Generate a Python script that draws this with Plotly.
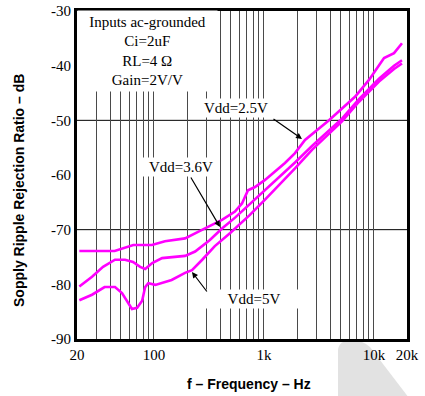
import math
import plotly.graph_objects as go

# ---------------- data ----------------
freq_25 = [21, 44, 65, 96, 126, 192, 252, 311, 416, 546, 632, 717, 830, 1024,
           1262, 1555, 1918, 2365, 3909, 6733, 9026, 12360, 15240, 18010]
psrr_25 = [-73.9, -73.9, -72.8, -72.8, -72.1, -71.6, -70.4, -69.5, -68.2, -66.7,
           -65.2, -62.8, -62.2, -60.9, -59.4, -57.8, -56.0, -53.6, -50.0, -45.7,
           -42.6, -38.6, -37.7, -35.9]

freq_36 = [21, 27.4, 34.5, 44.3, 54.6, 64.6, 75, 83.3, 96.6, 118.7, 192, 237, 323,
           416, 547, 746, 1024, 1400, 1918, 2737, 5129, 7322, 11130, 15240, 18010]
psrr_36 = [-80.4, -78.6, -76.8, -75.5, -75.5, -75.9, -76.8, -77.2, -76.1, -75.2,
           -74.8, -74.0, -71.9, -69.8, -67.8, -65.3, -62.8, -60.3, -57.7, -54.7,
           -49.7, -46.1, -42.4, -40.0, -39.0]

freq_5 = [21, 27.4, 35.6, 44.3, 51.3, 60.6, 63.2, 70.4, 78.2, 83.3, 88.9, 103, 145,
          192, 222, 275, 358, 494, 746, 1024, 1400, 1918, 2737, 5129, 7322, 11130,
          15240, 18010]
psrr_5 = [-82.9, -81.9, -80.5, -80.5, -81.6, -83.8, -84.5, -84.3, -83.0, -80.5,
          -79.8, -80.1, -79.2, -77.9, -77.4, -75.5, -73.0, -70.6, -67.3, -64.5,
          -61.7, -58.8, -55.4, -50.2, -46.6, -42.9, -40.6, -39.6]

x_grid_vals = [20, 30, 40, 50, 60, 70, 80, 90, 100, 200, 300, 400, 500, 600, 700,
               800, 900, 1000, 2000, 3000, 4000, 5000, 6000, 7000, 8000, 9000,
               10000, 20000]
x_tick_labels = {20: "20", 100: "100", 1000: "1k", 10000: "10k", 20000: "20k"}
y_tick_vals = [-90, -80, -70, -60, -50, -40, -30]
y_grid_vals = [-50, -70]

# ---------------- layout helpers (page pixel coordinates) ----------------
W, H = 425, 396
L, R, T, B = 77, 407, 11, 339  # plot area in page pixels


def xp(px):
    return (px - L) / (R - L)


def yp(py):
    return (B - py) / (B - T)


SERIF = "Liberation Serif, Times New Roman, serif"
SANS = "Liberation Sans, Arial, sans-serif"
MAG = "#ff00ff"

fig = go.Figure()
for f, p, name in [(freq_25, psrr_25, "Vdd=2.5V"),
                   (freq_36, psrr_36, "Vdd=3.6V"),
                   (freq_5, psrr_5, "Vdd=5V")]:
    fig.add_trace(go.Scatter(x=f, y=p, mode="lines", name=name,
                             line=dict(color=MAG, width=2.6),
                             showlegend=False, hoverinfo="skip"))

shapes = []
for yv in y_grid_vals:
    shapes.append(dict(type="line", xref="paper", x0=0, x1=1, yref="y",
                       y0=yv, y1=yv, line=dict(color="black", width=1),
                       layer="below"))

# light grey watermark in lower right corner
path = "M {} {} L {} {} Q {} {} {} {} Q {} {} {} {} L {} {} Z".format(
    xp(338), yp(398), xp(338), yp(350),
    xp(339), yp(340), xp(352), yp(340),
    xp(362), yp(340), xp(370), yp(347),
    xp(409), yp(398))
shapes.append(dict(type="path", xref="paper", yref="paper", path=path,
                   fillcolor="#e2e2e2", line=dict(width=0), layer="below"))

annotations = []


def label(text, cx, cy, w, h):
    annotations.append(dict(text=text, xref="paper", yref="paper",
                            x=xp(cx), y=yp(cy), xanchor="center",
                            yanchor="middle", width=w, height=h,
                            bgcolor="white", borderpad=1, showarrow=False,
                            font=dict(family=SERIF, size=15, color="black")))


label("Inputs ac-grounded<br>Ci=2uF<br>RL=4 Ω<br>Gain=2V/V", 147, 51, 137, 78)
label("Vdd=2.5V", 236, 108, 70, 16)
label("Vdd=3.6V", 181, 167, 74, 16)
label("Vdd=5V", 254, 299, 112, 16)


def arrow(tip_px, tip_py, tail_px, tail_py):
    lx = math.log10(20) + (tip_px - L) / (R - L) * 3
    yv = -30 - (tip_py - T) / (B - T) * 60
    annotations.append(dict(text="", x=lx, y=yv, xref="x", yref="y",
                            ax=tail_px - tip_px, ay=tail_py - tip_py,
                            showarrow=True, arrowhead=2, arrowsize=1,
                            arrowwidth=1.2, arrowcolor="black"))


arrow(302, 139, 272, 118)
arrow(220, 227, 190, 176)
arrow(192, 272, 208, 293)

annotations.append(dict(text="<b>Sopply Ripple Rejection Ratio – dB</b>",
                        xref="paper", yref="paper", x=xp(19), y=yp(191),
                        xanchor="center", yanchor="middle",
                        textangle=-90, showarrow=False,
                        font=dict(family=SANS, size=14, color="black")))
annotations.append(dict(text="<b>f – Frequency – Hz</b>",
                        xref="paper", yref="paper", x=xp(249), y=yp(384),
                        xanchor="center", yanchor="middle",
                        showarrow=False,
                        font=dict(family=SANS, size=14, color="black")))

fig.update_layout(
    width=W, height=H,
    margin=dict(l=L, r=W - R, t=T, b=H - B, autoexpand=False),
    paper_bgcolor="white", plot_bgcolor="white",
    shapes=shapes, annotations=annotations,
    xaxis=dict(type="log", range=[math.log10(20), math.log10(20000)],
               tickmode="array", tickvals=x_grid_vals,
               ticktext=[x_tick_labels.get(v, "") for v in x_grid_vals],
               showgrid=True, gridcolor="#4a4a4a", gridwidth=1,
               showline=True, linecolor="black", linewidth=3, mirror=True,
               ticks="", zeroline=False, automargin=False,
               ticklabeloverflow="allow",
               tickfont=dict(family=SERIF, size=15, color="black")),
    yaxis=dict(range=[-90, -30], tickmode="array", tickvals=y_tick_vals,
               ticktext=[str(v) for v in y_tick_vals],
               showgrid=False, showline=True, linecolor="black", linewidth=3,
               mirror=True, ticks="", zeroline=False, automargin=False,
               ticklabeloverflow="allow",
               tickfont=dict(family=SERIF, size=15, color="black")),
)

# remove the default 8px page margin so the figure fills the window exactly
fig.write_html("out.html",
               config={"displayModeBar": False, "staticPlot": True},
               post_script="document.body.style.margin='0';"
                           "document.body.style.overflow='hidden';")
